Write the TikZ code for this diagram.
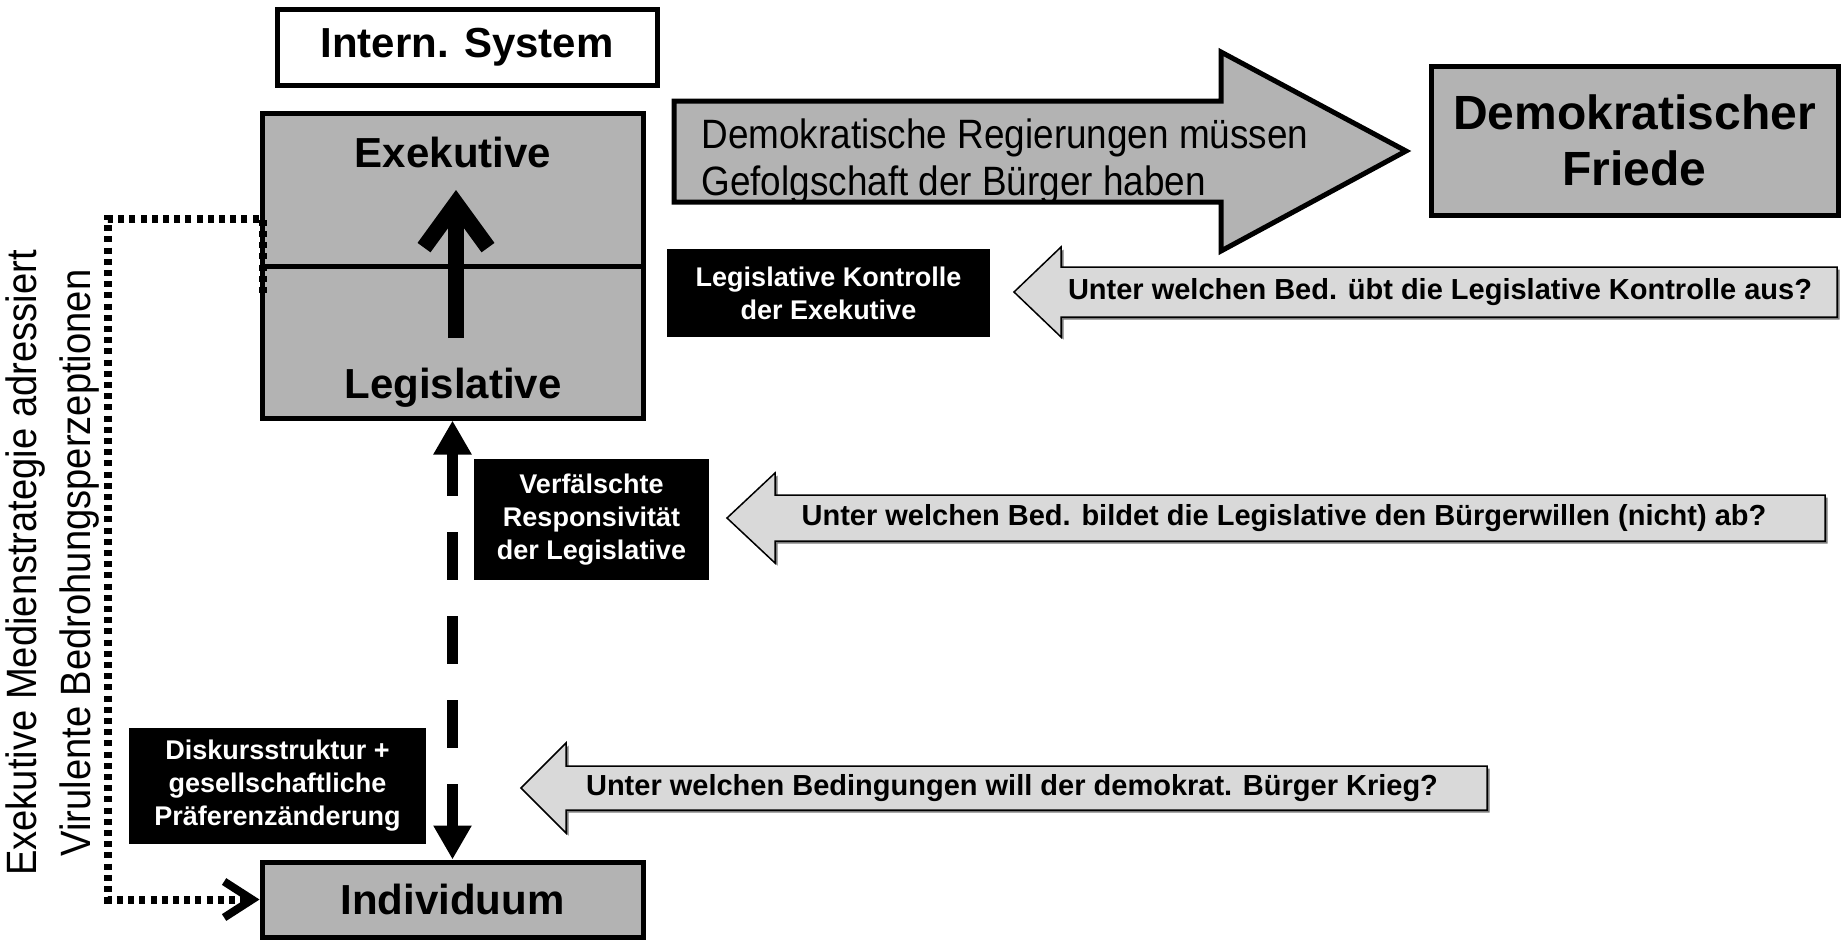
\documentclass[tikz,border=0pt]{standalone}
\usepackage{fontspec}
\setmainfont{Liberation Sans}
\newfontfamily\narrowsans[FakeStretch=0.9]{Liberation Sans}
\usetikzlibrary{arrows.meta}
\definecolor{boxgray}{HTML}{B3B3B3}
\definecolor{arrowgray}{HTML}{D9D9D9}
\definecolor{shadowgray}{HTML}{7A7A7A}
\begin{document}
\begin{tikzpicture}[x=0.5pt,y=-0.5pt,
  graybox/.style={draw=black,line width=2.5pt,fill=boxgray,inner sep=0pt},
  whitebox/.style={draw=black,line width=2.5pt,fill=white,inner sep=0pt},
  blackbox/.style={fill=black,text=white,inner sep=0pt,align=center,font=\fontsize{13.5}{16.5}\selectfont\bfseries},
  biglabel/.style={font=\fontsize{21}{25}\selectfont\bfseries,inner sep=0pt},
  asklabel/.style={font=\fontsize{14.5}{17}\selectfont\bfseries,inner sep=0pt},
  askarrow/.style={draw=black,line width=0.75pt,fill=arrowgray,line join=miter},
  askshadow/.style={fill=shadowgray},
  bigarrow/.style={draw=black,line width=2.5pt,fill=boxgray,line join=miter},
  dashconn/.style={line width=5.5pt,dash pattern=on 24pt off 18pt,dash phase=2pt,
    {Triangle[length=17pt,width=18pt]}-{Triangle[length=17pt,width=18pt]}},
  dotconn/.style={line width=4pt,dash pattern=on 3pt off 2.6pt,
    -{Straight Barb[length=14pt,width=18pt,line width=4pt]}},
  thickup/.style={line width=8pt,-{Straight Barb[length=22pt,width=32pt,line width=8pt]}},
]
\useasboundingbox (0,0) rectangle (1841,939);

% --- boxes ---
\node[whitebox,minimum width=190pt,minimum height=38pt,font=\fontsize{21}{25}\selectfont\bfseries] (intern) at (467,47) {Intern. System};
\node[graybox,minimum width=190.5pt,minimum height=152.5pt] (exek) at (452.5,265.5) {};
\coordinate (divy) at (0,266);
\draw[line width=2.5pt] (exek.west |- divy) -- (exek.east |- divy);
\node[biglabel,anchor=base] (exlab) at (453,167) {Exekutive};
\node[biglabel,anchor=base] (leglab) at (453,398) {Legislative};
\node[graybox,minimum width=190.5pt,minimum height=37.5pt,font=\fontsize{21}{25}\selectfont\bfseries] (indiv) at (452.5,899.5) {Individuum};
\node[graybox,minimum width=203.5pt,minimum height=74.5pt,align=center,font=\fontsize{24}{28}\selectfont\bfseries] (friede) at (1634.5,140.5) {Demokratischer\\Friede};

% --- big arrow ---
\draw[bigarrow] (674,101) -- (1221,101) -- (1221,52) -- (1406,151) -- (1221,251) -- (1221,202) -- (674,202) -- cycle;
\node[anchor=west,align=left,inner sep=0pt,font=\narrowsans\fontsize{20.5}{23.5}\selectfont] (claim) at (701,161) {Demokratische Regierungen müssen\\Gefolgschaft der Bürger haben};

% --- question arrows ---
\begin{scope}[shift={(2.5,2.5)}]
\fill[askshadow] (1014,292) -- (1061,247) -- (1061,267) -- (1837,267) -- (1837,317) -- (1061,317) -- (1061,337) -- cycle;
\fill[askshadow] (727,518) -- (775,473) -- (775,495) -- (1825,495) -- (1825,541) -- (775,541) -- (775,563) -- cycle;
\fill[askshadow] (521,788) -- (566,743) -- (566,766) -- (1487,766) -- (1487,810) -- (566,810) -- (566,833) -- cycle;
\end{scope}
\draw[askarrow] (1014,292) -- (1061,247) -- (1061,267) -- (1837,267) -- (1837,317) -- (1061,317) -- (1061,337) -- cycle;
\draw[askarrow] (727,518) -- (775,473) -- (775,495) -- (1825,495) -- (1825,541) -- (775,541) -- (775,563) -- cycle;
\draw[askarrow] (521,788) -- (566,743) -- (566,766) -- (1487,766) -- (1487,810) -- (566,810) -- (566,833) -- cycle;
\node[asklabel] (qA) at (1440,292) {Unter welchen Bed. übt die Legislative Kontrolle aus?};
\node[asklabel] (qB) at (1284,518) {Unter welchen Bed. bildet die Legislative den Bürgerwillen (nicht) ab?};
\node[asklabel] (qC) at (1012,788) {Unter welchen Bedingungen will der demokrat. Bürger Krieg?};

% --- black label boxes ---
\node[blackbox,minimum width=161.5pt,minimum height=44pt] (kontrolle) at (828.5,293) {Legislative Kontrolle\\der Exekutive};
\node[blackbox,minimum width=117.5pt,minimum height=60.5pt] (verf) at (591.5,519.5) {Verfälschte\\Responsivität\\der Legislative};
\node[blackbox,minimum width=148.5pt,minimum height=58pt] (diskurs) at (277.5,786) {Diskursstruktur +\\gesellschaftliche\\Präferenzänderung};

% --- connectors ---
\coordinate (upsrc) at (456,338);
\coordinate (uptgt) at (456,190);
\draw[thickup] (upsrc) -- (uptgt);

\draw[dashconn] (exek.south) -- (indiv.north);

\coordinate (dstart) at (263,293);
\coordinate (dtop) at (263,219);
\coordinate (dcorner) at (108,219);
\draw[dotconn] (dstart) -- (dtop) -- (dcorner) -- (indiv.west -| dcorner) -- (indiv.west);

\node[rotate=90,align=center,inner sep=0pt,font=\narrowsans\fontsize{21.2}{27}\selectfont] (media) at (53,563) {Exekutive Medienstrategie adressiert\\Virulente Bedrohungsperzeptionen};
\end{tikzpicture}
\end{document}
